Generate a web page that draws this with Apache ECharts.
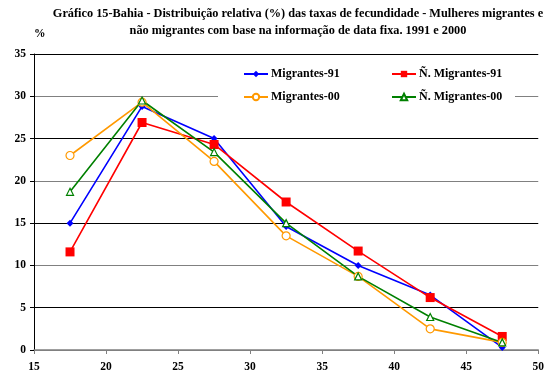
<!DOCTYPE html>
<html>
<head>
<meta charset="utf-8">
<style>
  html, body { margin: 0; padding: 0; background: #fff; }
  #chart { width: 547px; height: 374px; }
</style>
<script src="https://cdn.jsdelivr.net/npm/echarts@6/dist/echarts.min.js"></script>
</head>
<body>
<div id="chart"></div>
<script>
// Age-group midpoints (years) and relative fertility distribution (%)
const ages = [17.5, 22.5, 27.5, 32.5, 37.5, 42.5, 47.5];
const migrantes91 = [15.0, 28.8, 25.0, 14.6, 10.0, 6.5, 0.3];
const naoMigrantes91 = [11.6, 26.9, 24.3, 17.5, 11.7, 6.2, 1.6];
const migrantes00 = [23.0, 29.3, 22.3, 13.5, 8.7, 2.5, 0.9];
const naoMigrantes00 = [18.7, 29.5, 23.4, 15.0, 8.7, 3.9, 0.9];
const seriesNames = ['Migrantes-91', 'Ñ. Migrantes-91', 'Migrantes-00', 'Ñ. Migrantes-00'];

const font = '"Liberation Serif", "Times New Roman", serif';
const pair = (vals) => ages.map((a, i) => [a, vals[i]]);

const chart = echarts.init(document.getElementById('chart'), null, { renderer: 'canvas' });

function line(name, vals, color, symbol, size, hollow) {
  return {
    name: name,
    type: 'line',
    data: pair(vals),
    symbol: symbol,
    symbolSize: size,
    showAllSymbol: true,
    lineStyle: { color: color, width: 1.6 },
    itemStyle: hollow
      ? { color: '#fff', borderColor: color, borderWidth: 1.2 }
      : { color: color, borderColor: color, borderWidth: 0 },
    emphasis: { disabled: true },
    animation: false
  };
}

const legendText = { fontFamily: font, fontSize: 12, fontWeight: 'bold', color: '#000', padding: [0, 0, 0, -2] };

chart.setOption({
  animation: false,
  backgroundColor: '#fff',
  textStyle: { fontFamily: font },
  title: {
    text: 'Gráfico 15-Bahia - Distribuição relativa (%) das taxas de fecundidade - Mulheres migrantes e\nnão migrantes com base na informação de data fixa. 1991 e 2000',
    left: 293,
    top: 0,
    textAlign: 'center',
    textStyle: { fontFamily: font, fontSize: 12.3, fontWeight: 'bold', color: '#000', lineHeight: 17 }
  },
  grid: { left: 34, right: 6, top: 54, bottom: 24, containLabel: false },
  xAxis: {
    type: 'value',
    min: 15, max: 50, interval: 5,
    axisLine: { show: true, lineStyle: { color: '#808080', width: 1.5 } },
    axisTick: { show: true, inside: false, length: 4, lineStyle: { color: '#808080' } },
    axisLabel: { margin: 11, fontFamily: font, fontSize: 11.5, fontWeight: 'bold', color: '#000' },
    splitLine: { show: false }
  },
  yAxis: {
    type: 'value',
    min: 0, max: 35, interval: 5,
    name: '%',
    nameLocation: 'end',
    nameGap: 14,
    nameTextStyle: { fontFamily: font, fontSize: 11.5, fontWeight: 'bold', color: '#000', align: 'left' },
    axisLine: { show: true, lineStyle: { color: '#000', width: 1 } },
    axisTick: { show: true, inside: false, length: 4, lineStyle: { color: '#000' } },
    axisLabel: { margin: 8, fontFamily: font, fontSize: 11.5, fontWeight: 'bold', color: '#000' },
    splitLine: { show: true, lineStyle: { color: ['#808080', '#000'], width: 1.2 } }
  },
  graphic: [{
    type: 'rect',
    z: 1,
    shape: { x: 218, y: 58, width: 297, height: 42 },
    style: { fill: '#fff' }
  }],
  legend: [
    {
      data: [seriesNames[0], seriesNames[2]],
      orient: 'vertical',
      left: 238, top: 63,
      itemWidth: 24, itemHeight: 8, itemGap: 11,
      textStyle: legendText
    },
    {
      data: [seriesNames[1], seriesNames[3]],
      orient: 'vertical',
      left: 386, top: 63,
      itemWidth: 24, itemHeight: 8, itemGap: 11,
      textStyle: legendText
    }
  ],
  series: [
    line(seriesNames[0], migrantes91, '#0000ff', 'diamond', 7, false),
    line(seriesNames[1], naoMigrantes91, '#ff0000', 'rect', 9, false),
    line(seriesNames[2], migrantes00, '#ff9900', 'circle', 8, true),
    line(seriesNames[3], naoMigrantes00, '#008000', 'triangle', 7, true)
  ]
});
</script>
</body>
</html>
